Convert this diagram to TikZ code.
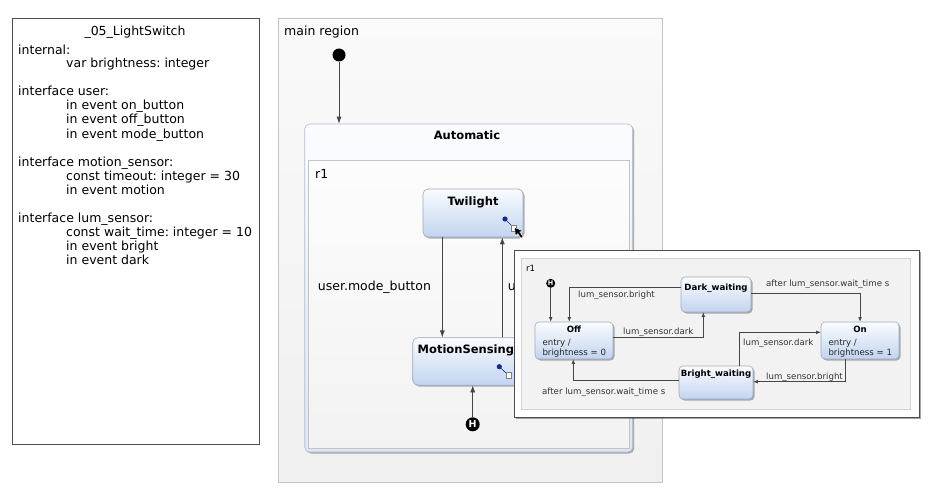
\documentclass[tikz,border=0pt]{standalone}
\usepackage{fontspec}
\setmainfont{DejaVu Sans}
\usetikzlibrary{arrows.meta,shadows,calc}
\definecolor{stateblue}{RGB}{194,212,240}
\definecolor{statetop}{RGB}{250,252,255}
\definecolor{stateline}{RGB}{160,170,186}
\definecolor{regionline}{RGB}{196,196,196}
\definecolor{arrowgrey}{RGB}{70,70,70}
\definecolor{dotblue}{RGB}{20,45,140}
\frenchspacing
\begin{document}
\begin{tikzpicture}[x=1pt,y=-1pt,
  declfont/.style={font=\fontsize{12.5pt}{14pt}\selectfont},
  txt/.style={inner sep=0pt, anchor=base west, font=\fontsize{12.5pt}{14pt}\selectfont},
  boldtxt/.style={inner sep=0pt, anchor=base, font=\fontsize{11.5pt}{13pt}\selectfont\bfseries},
  smalltxt/.style={inner sep=0pt, anchor=base west, text=black!80, font=\fontsize{8.6pt}{10pt}\selectfont},
  smallbold/.style={inner sep=0pt, anchor=base, font=\fontsize{8.6pt}{10pt}\selectfont\bfseries},
  statebox/.style={rounded corners=5pt, draw=stateline, line width=0.6pt,
    top color=statetop, bottom color=stateblue,
    drop shadow={shadow xshift=1.5pt, shadow yshift=-1.5pt, opacity=0.3, fill=black}},
  tr/.style={draw=arrowgrey, line width=0.7pt, -{Latex[length=7pt,width=5pt]}},
  smalltr/.style={draw=arrowgrey, line width=0.6pt, -{Latex[length=4.5pt,width=3.6pt]}},
  hist/.style={circle, fill=black, inner sep=0pt, text=white, font=\bfseries}
]
\useasboundingbox (0,0) rectangle (936,500);
\fill[white] (0,0) rectangle (936,500);

% ---------- declaration panel ----------
\draw[draw=black!70, line width=0.7pt, fill=white] (12,18) rectangle (259,444);
\node[inner sep=0pt, anchor=base, declfont] (spec) at (135,36) {\_05\_LightSwitch};
\foreach \yy/\xx/\declline [count=\i] in {
    54.5/18/internal:,
    68/66/var brightness: integer,
    96/18/interface user:,
    110/66/in event on\_button,
    124/66/in event off\_button,
    138/66/in event mode\_button,
    166/18/interface motion\_sensor:,
    180/66/const timeout: integer = 30,
    194/66/in event motion,
    222/18/interface lum\_sensor:,
    236/66/const wait\_time: integer = 10,
    250/66/in event bright,
    264/66/in event dark}
  \node[txt] (decl\i) at (\xx,\yy) {\declline};

% ---------- main region ----------
\draw[draw=regionline, line width=0.7pt, top color=black!2, bottom color=black!6]
  (278,18) rectangle (662,482);
\node[txt] (mainlbl) at (284,36) {main region};

\node[circle, fill=black, minimum size=13pt, inner sep=0pt] (init) at (339,55) {};

% composite state Automatic
\node[statebox, top color=statetop, bottom color=stateblue!60, minimum width=328pt, minimum height=328pt, inner sep=0pt,
  draw=stateline!80] (auto) at (468.7,288) {};
\node[boldtxt] (autolbl) at (467,139.5) {Automatic};
\draw[draw=regionline, line width=0.6pt, top color=black!1, bottom color=black!5]
  (308.7,160.7) rectangle (629.3,448);
\node[txt] (r1lbl) at (315,178) {r1};

\draw[tr] (init) -- (auto.north -| init);

% Twilight
\node[statebox, minimum width=100pt, minimum height=48pt, inner sep=0pt] (twi) at (473,213) {};
\node[boldtxt] (twilbl) at (473,205) {Twilight};
\fill[dotblue] (505,219) circle (2.6pt);
\draw[dotblue, line width=0.6pt] (505,219) -- (512,226);
\draw[black!50, fill=white, line width=0.5pt] (511,225.5) rectangle (516.5,231);
% mouse pointer
\draw[white, line width=0.4pt, fill=black]
  (514.5,227.5) -- (515.5,236) -- (517.8,233.6) -- (521,238.2) -- (523,236.6) -- (519.8,232) -- (523,231) -- cycle;

% MotionSensing
\node[statebox, minimum width=130pt, minimum height=47.3pt, inner sep=0pt] (motion) at (477.7,361.4) {};
\node[inner sep=0pt, anchor=base west, font=\fontsize{11.5pt}{13pt}\selectfont\bfseries] (motionlbl) at (417.5,353.5) {MotionSensing};
\fill[dotblue] (499.3,366.7) circle (2.6pt);
\draw[dotblue, line width=0.6pt] (499.3,366.7) -- (506,373);
\draw[black!50, fill=white, line width=0.5pt] (506,372.5) rectangle (511.5,378);

% shallow history
\node[hist, minimum size=14pt, font=\fontsize{9.5pt}{10pt}\selectfont\bfseries] (hist) at (472.7,424.3) {H};
\draw[tr] (hist) -- (motion.south -| hist);

% transitions between Twilight and MotionSensing
\draw[tr] (twi.south -| 442.3,0) -- (motion.north -| 442.3,0);
\draw[tr] (motion.north -| 502.3,0) -- (twi.south -| 502.3,0);
\node[txt] (modelbl1) at (317.7,290.5) {user.mode\_button};
\node[txt] (modelbl2) at (507.7,290.5) {user.mode\_button};

% ---------- expanded view of MotionSensing ----------
\draw[draw=black!70, line width=0.8pt, fill=white,
  drop shadow={shadow xshift=2pt, shadow yshift=-2pt, opacity=0.35, fill=black}]
  (514,250) rectangle (919,417);
\draw[draw=black!18, line width=0.6pt, fill=black!5] (521.7,258.3) rectangle (910,409);
\node[smalltxt, text=black] (sub-r1) at (526,271.5) {r1};

\node[hist, minimum size=9pt, font=\fontsize{6.5pt}{7pt}\selectfont\bfseries] (subhist) at (550.7,283.3) {H};

\node[statebox, rounded corners=4pt, minimum width=78pt, minimum height=37pt, inner sep=0pt] (off) at (574,340.5) {};
\node[smallbold] (offlbl) at (574,332.5) {Off};
\node[smalltxt, text=black!85] (offentry) at (542.3,345) {entry /};
\node[smalltxt, text=black!85] (offact) at (542.3,355.3) {brightness = 0};

\node[statebox, rounded corners=4pt, minimum width=78pt, minimum height=37pt, inner sep=0pt] (on) at (860,340.5) {};
\node[smallbold] (onlbl) at (860,332.5) {On};
\node[smalltxt, text=black!85] (onentry) at (828.3,345) {entry /};
\node[smalltxt, text=black!85] (onact) at (828.3,355.3) {brightness = 1};

\node[statebox, rounded corners=4pt, minimum width=70pt, minimum height=35pt, inner sep=0pt] (dw) at (716,294.5) {};
\node[smallbold] (dwlbl) at (716,290) {Dark\_waiting};

\node[statebox, rounded corners=4pt, minimum width=74pt, minimum height=33pt, inner sep=0pt] (bw) at (716,382.5) {};
\node[smallbold] (bwlbl) at (716,376.5) {Bright\_waiting};

\draw[smalltr] (subhist) -- (off.north -| subhist);

\draw[smalltr] (dw.west |- 0,287.3) -| (off.north -| 569.3,0);
\node[smalltxt] (t1) at (578,297.5) {lum\_sensor.bright};

\draw[smalltr] (off.east |- 0,337.3) -| (dw.south -| 703.3,0);
\node[smalltxt] (t2) at (623,334) {lum\_sensor.dark};

\draw[smalltr] (dw.east |- 0,293.3) -| (on.north -| 860,0);
\node[smalltxt] (t3) at (766,286) {after lum\_sensor.wait\_time s};

\draw[smalltr] (bw.north -| 739.3,0) |- (on.west |- 0,332.3);
\node[smalltxt] (t4) at (743,345) {lum\_sensor.dark};

\draw[smalltr] (on.south -| 845,0) |- (bw.east |- 0,381.7);
\node[smalltxt] (t5) at (766,379.2) {lum\_sensor.bright};

\draw[smalltr] (bw.west |- 0,380) -| (off.south -| 573.3,0);
\node[smalltxt] (t6) at (542,394) {after lum\_sensor.wait\_time s};
\end{tikzpicture}
\end{document}
